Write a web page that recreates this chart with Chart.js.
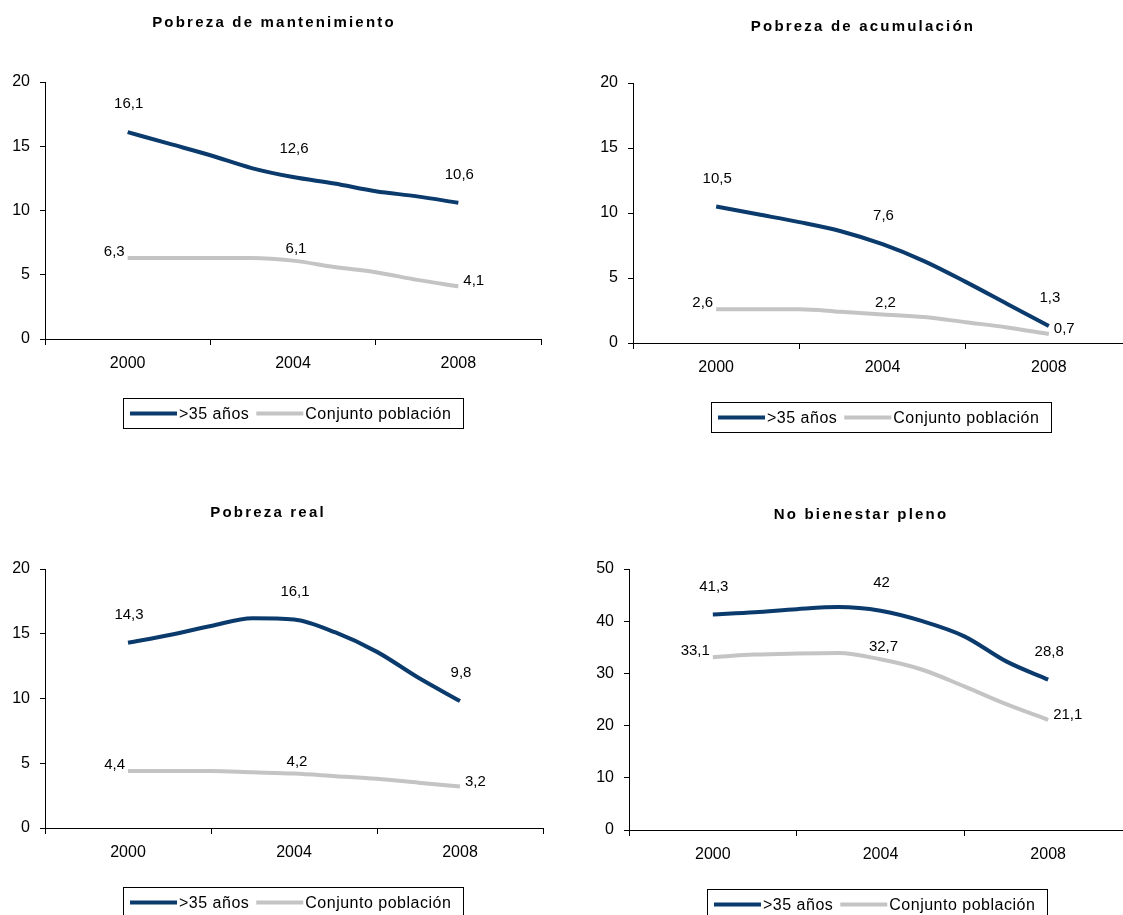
<!DOCTYPE html>
<html>
<head>
<meta charset="utf-8">
<script src="https://cdn.jsdelivr.net/npm/chart.js@4.4.1/dist/chart.umd.min.js"></script>
<style>
html,body{margin:0;padding:0;background:#fff;width:1123px;height:915px;overflow:hidden;position:relative}
canvas{position:absolute;display:block}
</style>
</head>
<body>
<canvas id="c1" width="561" height="457" style="left:0;top:0"></canvas>
<canvas id="c2" width="600" height="457" style="left:561px;top:0"></canvas>
<canvas id="c3" width="561" height="458" style="left:0;top:457px"></canvas>
<canvas id="c4" width="600" height="458" style="left:561px;top:457px"></canvas>
<script>
// ---------- DATA ----------
const years = [2000, 2001, 2002, 2003, 2004, 2005, 2006, 2007, 2008];
const xTickLabels = ['2000', '2004', '2008'];
const seriesNames = ['>35 años', 'Conjunto población'];
const chartTitles = ['Pobreza de mantenimiento', 'Pobreza de acumulación', 'Pobreza real', 'No bienestar pleno'];

const mantenimientoMayores35 = [16.1, 15.2, 14.3, 13.3, 12.6, 12.1, 11.5, 11.1, 10.6];
const mantenimientoConjunto  = [6.3, 6.3, 6.3, 6.3, 6.1, 5.6, 5.2, 4.6, 4.1];

const acumulacionMayores35 = [10.5, 9.9, 9.3, 8.6, 7.6, 6.3, 4.7, 3.0, 1.3];
const acumulacionConjunto  = [2.6, 2.6, 2.6, 2.4, 2.2, 2.0, 1.6, 1.2, 0.7];

const realMayores35 = [14.3, 14.9, 15.6, 16.2, 16.1, 15.1, 13.6, 11.6, 9.8];
const realConjunto  = [4.4, 4.4, 4.4, 4.3, 4.2, 4.0, 3.8, 3.5, 3.2];

const noBienestarMayores35 = [41.3, 41.7, 42.3, 42.7, 42, 40.0, 37.1, 32.3, 28.8];
const noBienestarConjunto  = [33.1, 33.6, 33.8, 33.9, 32.7, 30.7, 27.5, 24.1, 21.1];

const yAxisMax  = [20, 20, 20, 50];
const yAxisStep = [5, 5, 5, 10];

// ---------- STYLE / LAYOUT ----------
const FONT = "'Liberation Sans', Arial, Helvetica, sans-serif";
const DARK = '#0B3A6C';
const GREY = '#C4C4C4';
Chart.defaults.font.family = FONT;
Chart.defaults.color = '#000';

const layouts = [
  {id:'c1', w:561, h:457, area:{l:45, t:82,  r:541, b:339}, title:{x:274, y:23}},
  {id:'c2', w:600, h:457, area:{l:72, t:83,  r:571, b:343}, title:{x:302, y:27}},
  {id:'c3', w:561, h:458, area:{l:45, t:112, r:543, b:371}, title:{x:268, y:56}},
  {id:'c4', w:600, h:458, area:{l:68, t:112, r:571, b:373}, title:{x:300, y:58}}
];

const seriesSets = [
  [mantenimientoMayores35, mantenimientoConjunto],
  [acumulacionMayores35, acumulacionConjunto],
  [realMayores35, realConjunto],
  [noBienestarMayores35, noBienestarConjunto]
];

const fmt = v => String(v).replace('.', ',');

const decorPlugin = {
  id: 'decor',
  afterDraw(chart, args, opts) {
    const ctx = chart.ctx;
    const a = chart.chartArea;

    // Title
    ctx.save();
    ctx.font = `bold 15px ${FONT}`;
    ctx.fillStyle = '#000';
    ctx.textAlign = 'center';
    ctx.textBaseline = 'middle';
    try { ctx.letterSpacing = '2.2px'; } catch (e) {}
    ctx.fillText(opts.title, opts.titleX, opts.titleY);
    ctx.restore();

    // Data labels
    ctx.save();
    ctx.font = `15px ${FONT}`;
    ctx.fillStyle = '#000';
    ctx.textBaseline = 'middle';
    chart.data.datasets.forEach((ds, di) => {
      const meta = chart.getDatasetMeta(di);
      const shown = ds.data.map((d, i) => i).filter(i => xTickLabels.includes(String(ds.data[i].x)));
      shown.forEach((i, k) => {
        const p = meta.data[i];
        const txt = fmt(ds.data[i].y);
        let x, y;
        if (di === 0) { ctx.textAlign = 'center'; x = p.x + 1; y = p.y - 28; }
        else if (k === 0) { ctx.textAlign = 'right'; x = p.x - 3; y = p.y - 6; }
        else if (k === shown.length - 1) { ctx.textAlign = 'left'; x = p.x + 5; y = p.y - 5; }
        else { ctx.textAlign = 'center'; x = p.x + 3; y = p.y - 12; }
        ctx.fillText(txt, x, y);
      });
    });
    ctx.restore();

    // Legend box
    ctx.save();
    const bx = Math.round(a.left + 78), by = Math.round(a.bottom + 59), bw = 340, bh = 30;
    ctx.fillStyle = '#fff';
    ctx.fillRect(bx, by, bw, bh);
    ctx.strokeStyle = '#000';
    ctx.lineWidth = 1;
    ctx.strokeRect(bx + 0.5, by + 0.5, bw, bh);
    ctx.font = `16px ${FONT}`;
    try { ctx.letterSpacing = '0.5px'; } catch (e) {}
    ctx.textAlign = 'left';
    ctx.textBaseline = 'middle';
    let x = bx + 7;
    const cy = by + 15.5;
    chart.data.datasets.forEach(ds => {
      ctx.strokeStyle = ds.borderColor;
      ctx.lineWidth = 4;
      ctx.beginPath();
      ctx.moveTo(x, cy);
      ctx.lineTo(x + 47, cy);
      ctx.stroke();
      x += 49;
      ctx.fillStyle = '#000';
      ctx.fillText(ds.label, x, cy + 1);
      x += ctx.measureText(ds.label).width + 7;
    });
    ctx.restore();
  }
};

layouts.forEach((L, ci) => {
  const [s1, s2] = seriesSets[ci];
  new Chart(document.getElementById(L.id), {
    type: 'line',
    data: {
      datasets: [
        {label: seriesNames[0], data: years.map((yr, i) => ({x: yr, y: s1[i]})),
         borderColor: DARK, borderWidth: 4, pointRadius: 0, cubicInterpolationMode: 'monotone', borderJoinStyle: 'round', fill: false},
        {label: seriesNames[1], data: years.map((yr, i) => ({x: yr, y: s2[i]})),
         borderColor: GREY, borderWidth: 4, pointRadius: 0, cubicInterpolationMode: 'monotone', borderJoinStyle: 'round', fill: false}
      ]
    },
    options: {
      responsive: false,
      animation: false,
      devicePixelRatio: 1,
      layout: {padding: {left: 0, top: L.area.t, right: L.w - L.area.r, bottom: 0}},
      plugins: {
        legend: {display: false},
        tooltip: {enabled: false},
        title: {display: false},
        decor: {title: chartTitles[ci], titleX: L.title.x, titleY: L.title.y}
      },
      scales: {
        x: {
          type: 'linear',
          min: years[0] - 2,
          max: years[years.length - 1] + 2,
          afterBuildTicks: s => {
            const t = [];
            for (let v = s.min; v <= s.max; v += 2) t.push({value: v});
            s.ticks = t;
          },
          afterFit: s => { s.height = L.h - L.area.b; },
          ticks: {
            autoSkip: false, maxRotation: 0, minRotation: 0, padding: 9,
            font: {size: 16, family: FONT}, color: '#000',
            callback: v => xTickLabels.includes(String(v)) ? String(v) : ''
          },
          grid: {
            drawOnChartArea: false, drawTicks: true, tickLength: 6,
            tickColor: c => (c.tick && xTickLabels.includes(String(c.tick.value))) ? 'rgba(0,0,0,0)' : '#000'
          },
          border: {display: true, color: '#000', width: 1}
        },
        y: {
          min: 0, max: yAxisMax[ci],
          afterFit: s => { s.width = L.area.l; },
          ticks: {stepSize: yAxisStep[ci], padding: 10, font: {size: 16, family: FONT}, color: '#000'},
          grid: {drawOnChartArea: false, drawTicks: true, tickLength: 5, tickColor: '#000'},
          border: {display: true, color: '#000', width: 1}
        }
      }
    },
    plugins: [decorPlugin]
  });
});
</script>
</body>
</html>
